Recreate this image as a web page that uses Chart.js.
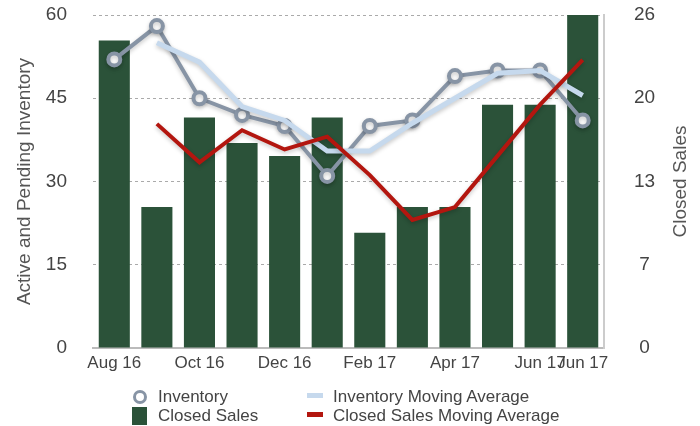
<!DOCTYPE html>
<html>
<head>
<meta charset="utf-8">
<script src="https://cdn.jsdelivr.net/npm/chart.js@4/dist/chart.umd.min.js"></script>
<style>
  html, body { margin: 0; padding: 0; background: #fff; }
  #wrap { position: relative; width: 700px; height: 426px; font-family: "Liberation Sans", Arial, sans-serif; }
  canvas { position: absolute; left: 0; top: 0; }
  .lg { position: absolute; font-size: 17px; color: #444; line-height: 19px; white-space: nowrap; }
  .ic { position: absolute; }
</style>
</head>
<body>
<div id="wrap">
  <canvas id="c" width="700" height="426"></canvas>
  <div class="ic" style="left:133px;top:390px;width:8px;height:8px;border:3px solid #8794a5;border-radius:50%;background:#fff;"></div>
  <div class="lg" style="left:158px;top:387px;">Inventory</div>
  <div class="ic" style="left:132px;top:407px;width:15px;height:18px;background:#2b5239;"></div>
  <div class="lg" style="left:158px;top:406px;">Closed Sales</div>
  <div class="ic" style="left:307px;top:393px;width:16px;height:5px;background:#c6d9ed;"></div>
  <div class="lg" style="left:333px;top:387px;">Inventory Moving Average</div>
  <div class="ic" style="left:307px;top:412px;width:16px;height:5px;background:#b3160f;"></div>
  <div class="lg" style="left:333px;top:406px;">Closed Sales Moving Average</div>
</div>
<script>
const labels = ['Aug 16','Sep 16','Oct 16','Nov 16','Dec 16','Jan 17','Feb 17','Mar 17','Apr 17','May 17','Jun 17','Jun 17'];
const inventory = [52, 58, 45, 42, 40, 31, 40, 41, 49, 50, 50, 41];
const inventoryMA = [null, 55, 51.5, 43.5, 41, 35.5, 35.5, 40.5, 45, 49.5, 50, 45.5];
const closedSales = [24, 11, 18, 16, 15, 18, 9, 11, 11, 19, 19, 26];
const closedSalesMA = [null, 17.5, 14.5, 17, 15.5, 16.5, 13.5, 10, 11, 15, 19, 22.5];
const leftTicks = [0, 15, 30, 45, 60];
const rightTicks = [0, 6.5, 13, 19.5, 26];
const rightTitle = 'Closed Sales';

const FONT = '"Liberation Sans", Arial, sans-serif';

const shadowPlugin = {
  id: 'lineShadow',
  beforeDatasetDraw(chart, args) {
    if (args.meta.type === 'line') {
      const ctx = chart.ctx;
      ctx.save();
      ctx.shadowColor = 'rgba(0,0,0,0.22)';
      ctx.shadowBlur = 4;
      ctx.shadowOffsetY = 2;
    }
  },
  afterDatasetDraw(chart, args) {
    if (args.meta.type === 'line') chart.ctx.restore();
  }
};

const rightTitlePlugin = {
  id: 'rightTitle',
  afterDraw(chart) {
    const s = chart.scales.y1;
    const ca = chart.chartArea;
    const ctx = chart.ctx;
    ctx.save();
    ctx.translate(s.right - 19.4, (ca.top + ca.bottom) / 2);
    ctx.rotate(-Math.PI / 2);
    ctx.font = '19px ' + FONT;
    ctx.fillStyle = '#555';
    ctx.textAlign = 'center';
    ctx.textBaseline = 'middle';
    ctx.fillText(rightTitle, 0, 0);
    ctx.restore();
  }
};

new Chart(document.getElementById('c'), {
  type: 'bar',
  data: {
    labels: labels,
    datasets: [
      {
        type: 'line', label: 'Closed Sales Moving Average', data: closedSalesMA, yAxisID: 'y1',
        borderColor: '#b3160f', borderWidth: 4, pointRadius: 0, tension: 0, order: 0
      },
      {
        type: 'line', label: 'Inventory Moving Average', data: inventoryMA, yAxisID: 'y',
        borderColor: '#c6d9ed', borderWidth: 5, pointRadius: 0, tension: 0, order: 1
      },
      {
        type: 'line', label: 'Inventory', data: inventory, yAxisID: 'y',
        borderColor: '#8794a5', borderWidth: 4, pointRadius: 6, pointBorderWidth: 4,
        pointBackgroundColor: '#ffffff', pointBorderColor: '#8794a5', tension: 0, order: 2
      },
      {
        type: 'bar', label: 'Closed Sales', data: closedSales, yAxisID: 'y1',
        backgroundColor: '#2b5239', barPercentage: 0.73, categoryPercentage: 1, order: 3
      }
    ]
  },
  options: {
    responsive: false,
    animation: false,
    layout: { padding: { top: 15, bottom: 50, left: 0, right: 0 } },
    plugins: { legend: { display: false }, tooltip: { enabled: false } },
    scales: {
      x: {
        offset: true,
        grid: { display: false, drawTicks: false },
        border: { display: true, color: '#bbbbbb', width: 2 },
        ticks: {
          autoSkip: false, maxRotation: 0, padding: 5, color: '#444',
          font: { family: FONT, size: 17 },
          callback: function(v, i) { return (i % 2 === 0 || i === labels.length - 1) ? labels[i] : ''; }
        },
        afterFit: function(s) { s.height = 28; }
      },
      y: {
        position: 'left', min: 0, max: 60,
        afterBuildTicks: function(s) { s.ticks = leftTicks.map(v => ({ value: v })); },
        grid: { color: '#aaaaaa', lineWidth: 1, drawTicks: true, tickLength: 26, tickColor: 'rgba(0,0,0,0)' },
        border: { display: false, dash: [3, 3] },
        ticks: { padding: 0, color: '#444', font: { family: FONT, size: 19 } },
        title: { display: true, text: 'Active and Pending Inventory', color: '#555', font: { family: FONT, size: 19 }, padding: { top: 13, bottom: 0 } },
        afterFit: function(s) { s.width = 93; }
      },
      y1: {
        position: 'right', min: 0, max: 26,
        afterBuildTicks: function(s) { s.ticks = rightTicks.map(v => ({ value: v })); },
        grid: { display: true, color: 'rgba(0,0,0,0)', drawOnChartArea: false, drawTicks: true, tickLength: 30, tickColor: 'rgba(0,0,0,0)' },
        border: { display: true, color: '#cccccc', width: 2 },
        ticks: { padding: 0, crossAlign: 'center', color: '#444', font: { family: FONT, size: 19 },
          callback: function(v) { return String(Math.round(v)); } },
        title: { display: false },
        afterFit: function(s) { s.width = 96; }
      }
    }
  },
  plugins: [shadowPlugin, rightTitlePlugin]
});
</script>
</body>
</html>
